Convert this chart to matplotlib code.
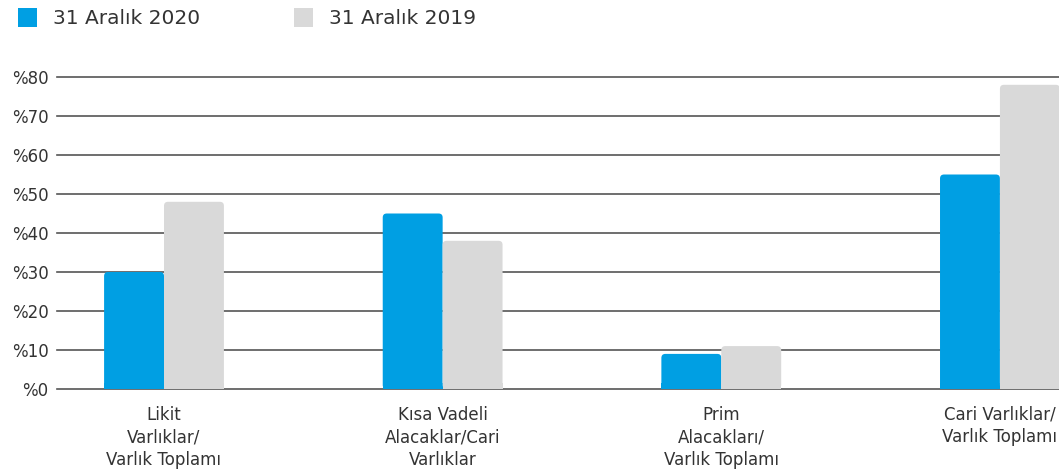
import matplotlib.pyplot as plt
from matplotlib.patches import Rectangle, FancyBboxPatch
import numpy as np

# veriler
kategoriler = ["Likit\nVarlıklar/\nVarlık Toplamı",
               "Kısa Vadeli\nAlacaklar/Cari\nVarlıklar",
               "Prim\nAlacakları/\nVarlık Toplamı",
               "Cari Varlıklar/\nVarlık Toplamı"]
deger_2020 = [30, 45, 9, 55]
deger_2019 = [48, 38, 11, 78]
seri_adlari = ["31 Aralık 2020", "31 Aralık 2019"]
y_ticks = [0, 10, 20, 30, 40, 50, 60, 70, 80]

mavi = "#009fe3"
gri = "#d9d9d9"
yazi = "#333333"

plt.rcParams['font.family'] = ['DejaVu Sans']

fig = plt.figure(figsize=(10.59, 4.71), dpi=100)
ax = fig.add_axes([57 / 1059, 1 - 389 / 471, 1 - 57 / 1059, (389 - 77) / 471])

x = np.arange(len(kategoriler))
w = 0.215
renkler = [mavi, gri]
ax.set_xlim(-0.384, 3.212)
ax.set_ylim(0, 80)

# köşe yuvarlatma için piksel -> veri oranı
px_x = (3.212 + 0.384) / 1002
px_y = 80 / 312
r = 4 * px_x
asp = px_y / px_x

for i, (vals, renk) in enumerate(zip([deger_2020, deger_2019], renkler)):
    bars = ax.bar(x + (i - 0.5) * w, vals, w, color=renk, zorder=2)
    for b in bars:
        b.set_visible(False)
        bx, bw, bh = b.get_x(), b.get_width(), b.get_height()
        ax.add_patch(FancyBboxPatch((bx, 0), bw, bh,
                                    boxstyle=f"round,pad=0,rounding_size={r}",
                                    mutation_aspect=asp, color=renk, zorder=2, lw=0))
        # alt köşeler düz kalsın
        ax.add_patch(Rectangle((bx, 0), bw, 6 * px_y, color=renk, zorder=2, lw=0))

ax.set_yticks(y_ticks)
ax.set_yticklabels([f"%{t}" for t in y_ticks])
ax.set_xticks(x)
ax.set_xticklabels(kategoriler, linespacing=1.32, fontsize=12)
ax.yaxis.grid(True, color="#555555", lw=1.2, zorder=0)
ax.set_axisbelow(True)
for gl in ax.get_ygridlines():
    gl.set_clip_on(False)
for s in ax.spines.values():
    s.set_visible(False)
ax.tick_params(axis='both', length=0, labelsize=12, colors=yazi)
ax.tick_params(axis='y', pad=6)
ax.tick_params(axis='x', pad=12)

# lejant
for i, (ad, renk) in enumerate(zip(seri_adlari, renkler)):
    x0 = [18, 294][i]
    fig.add_artist(Rectangle((x0 / 1059, 1 - 27 / 471), 19 / 1059, 19 / 471,
                             transform=fig.transFigure, color=renk, lw=0))
    fig.text((x0 + 35) / 1059, 1 - 19 / 471, ad, fontsize=14.5, color=yazi,
             va='center', ha='left')

plt.savefig("out.png", dpi=100)
